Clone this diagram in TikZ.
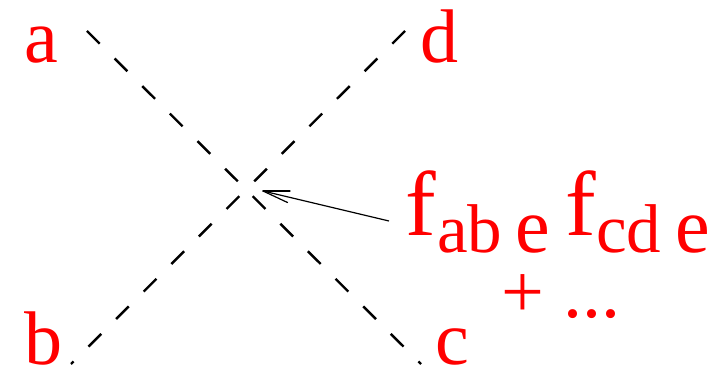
\documentclass[tikz,border=0pt]{standalone}
\usepackage{fontspec}
\newfontfamily\libserif{Liberation Serif}

\begin{document}
\begin{tikzpicture}[x=1pt, y=-1pt]
    \useasboundingbox (0,0) rectangle (725,371);

    % --- External legs ---
    \node[font=\libserif\fontsize{76}{80}\selectfont, text=red, inner sep=0pt, anchor=base west] (a) at (24,63) {a};
    \node[font=\libserif\fontsize{76}{80}\selectfont, text=red, inner sep=0pt, anchor=base west] (d) at (420,63) {d};
    \node[font=\libserif\fontsize{76}{80}\selectfont, text=red, inner sep=0pt, anchor=base west] (b) at (24,364) {b};
    \node[font=\libserif\fontsize{76}{80}\selectfont, text=red, inner sep=0pt, anchor=base west] (c) at (435,364) {c};

    % --- Structure constants ---
    \node[font=\libserif\fontsize{92}{96}\selectfont, text=red, inner sep=0pt, anchor=base west] (fab) at (405,236) {f};
    \node[font=\libserif\fontsize{69}{72}\selectfont, text=red, inner sep=0pt, anchor=base west] (ab) at (437,253) {ab};
    \node[font=\libserif\fontsize{78}{80}\selectfont, text=red, inner sep=0pt, anchor=base west] (e1) at (515,253) {e};
    \node[font=\libserif\fontsize{92}{96}\selectfont, text=red, inner sep=0pt, anchor=base west] (fcd) at (565,236) {f};
    \node[font=\libserif\fontsize{69}{72}\selectfont, text=red, inner sep=0pt, anchor=base west] (cd) at (596,253) {cd};
    \node[font=\libserif\fontsize{78}{80}\selectfont, text=red, inner sep=0pt, anchor=base west] (e2) at (675,253) {e};
    \node[font=\libserif\fontsize{76}{80}\selectfont, text=red, inner sep=0pt, anchor=base west] (more) at (501,317) {+ ...};

    % --- Line ends ---
    \coordinate (pa) at (87,31);
    \coordinate (pc) at (421,364);
    \coordinate (pd) at (405,31);
    \coordinate (pb) at (71,364);
    \coordinate (vertex) at (263,191);
    \coordinate (tail) at (389,221);

    % --- Dashed lines ---
    \draw[line width=2.4pt, dash pattern=on 18pt off 21pt] (pa) -- (pc);
    \draw[line width=2.4pt, dash pattern=on 18pt off 21pt] (pd) -- (pb);

    % --- Pointer to the vertex ---
    \draw[line width=1.2pt] (tail) -- (vertex);
    \draw[line width=1.2pt, line cap=round] (vertex) -- ++(27,0);
    \draw[line width=1.2pt, line cap=round] (vertex) -- ++(24.5,11.5);

\end{tikzpicture}
\end{document}
